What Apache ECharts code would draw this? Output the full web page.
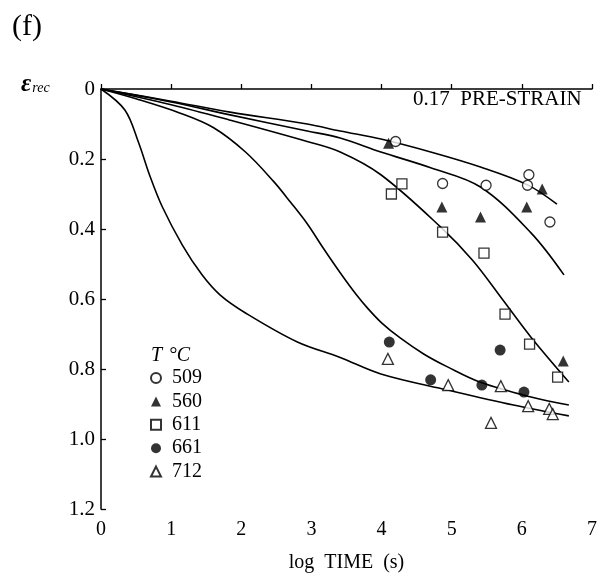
<!DOCTYPE html>
<html>
<head>
<meta charset="utf-8">
<script src="https://cdn.jsdelivr.net/npm/echarts@6/dist/echarts.min.js"></script>
<style>html,body{margin:0;padding:0;background:#fff}#c{width:615px;height:578px}</style>
</head>
<body>
<div id="c"></div>
<script>
// x: log TIME (s), y: eps_rec
var xTicks = [0, 1, 2, 3, 4, 5, 6, 7];
var yTicks = [0, 0.2, 0.4, 0.6, 0.8, 1.0, 1.2];

var pts509 = [[4.2,0.15],[4.87,0.27],[5.49,0.275],[6.1,0.245],[6.08,0.275],[6.4,0.38]];
var pts560 = [[4.1,0.155],[6.29,0.286],[4.86,0.337],[5.41,0.366],[6.07,0.337],[6.59,0.777]];
var pts611 = [[4.29,0.271],[4.14,0.30],[4.87,0.409],[5.46,0.469],[5.76,0.643],[6.11,0.729],[6.51,0.823]];
var pts661 = [[4.11,0.723],[4.7,0.831],[5.43,0.846],[5.69,0.746],[6.03,0.866]];
var pts712 = [[4.09,0.771],[4.95,0.846],[5.7,0.849],[5.56,0.954],[6.09,0.906],[6.39,0.914],[6.44,0.929]];

var curve509 = [[0,0],[1,0.035],[1.84,0.066],[2.94,0.1],[3.41,0.12],[3.99,0.143],[4.7,0.18],[5.41,0.223],[6.08,0.274],[6.5,0.329]];
var curve560 = [[0,0],[1,0.037],[1.84,0.074],[2.94,0.12],[3.41,0.14],[3.99,0.18],[4.7,0.225],[5.41,0.28],[6.13,0.411],[6.6,0.531]];
var curve611 = [[0,0],[1,0.045],[1.84,0.089],[2.94,0.15],[3.41,0.18],[3.99,0.245],[4.84,0.394],[5.3,0.49],[5.73,0.603],[6.13,0.709],[6.67,0.837]];
var curve661 = [[0,0],[0.5,0.028],[1.13,0.069],[1.6,0.11],[2.06,0.18],[2.46,0.264],[2.7,0.323],[2.94,0.385],[3.17,0.455],[3.41,0.525],[3.63,0.585],[3.8,0.626],[4.0,0.668],[4.27,0.712],[4.6,0.757],[4.94,0.794],[5.41,0.838],[6.13,0.88],[6.67,0.903]];
var curve712 = [[0,0],[0.34,0.06],[0.53,0.15],[0.7,0.25],[0.87,0.335],[1.16,0.446],[1.44,0.531],[1.7,0.589],[2.06,0.64],[2.8,0.723],[3.41,0.767],[3.99,0.814],[4.94,0.86],[5.88,0.903],[6.67,0.934]];

var FONT = '"Liberation Serif", "DejaVu Serif", serif';
var open = {color:'#fff', borderColor:'#000', borderWidth:1.3};
var filled = {color:'#000', borderColor:'#000', borderWidth:0};

function lineSeries(name, data){
  return {type:'line', name:name, data:data, smooth:0.35, showSymbol:false, silent:true,
    lineStyle:{color:'#000', width:1.6}, z:2};
}
function scatterSeries(name, data, symbol, size, style){
  return {type:'scatter', name:name, data:data, symbol:symbol, symbolSize:size, itemStyle:style, z:3};
}

var chart = echarts.init(document.getElementById('c'), null, {renderer:'canvas'});
chart.setOption({
  animation:false,
  backgroundColor:'#fff',
  textStyle:{fontFamily:FONT, color:'#000'},
  grid:{left:101, top:89, right:23, bottom:69, containLabel:false},
  xAxis:{type:'value', min:xTicks[0], max:xTicks[xTicks.length-1], interval:1,
    name:'log  TIME  (s)', nameLocation:'middle', nameGap:44,
    nameTextStyle:{fontFamily:FONT, fontSize:20, color:'#000'},
    axisLine:{lineStyle:{color:'#000', width:1.5}},
    axisTick:{inside:true, length:5, lineStyle:{color:'#000', width:1.3}},
    axisLabel:{fontFamily:FONT, fontSize:20, color:'#000', margin:11},
    splitLine:{show:false}},
  yAxis:{type:'value', inverse:true, min:yTicks[0], max:yTicks[yTicks.length-1], interval:0.2,
    axisLine:{show:true, lineStyle:{color:'#000', width:1.5}},
    axisTick:{show:true, inside:true, length:5, lineStyle:{color:'#000', width:1.3}},
    axisLabel:{fontFamily:FONT, fontSize:21, color:'#000', margin:6,
      formatter:function(v){ return Math.abs(v)<1e-9 ? '0' : v.toFixed(1); }},
    splitLine:{show:false}},
  legend:{orient:'vertical', left:145, top:363, itemWidth:10, itemHeight:10, itemGap:3.4,
    data:['509','560','611','661','712'],
    textStyle:{fontFamily:FONT, fontSize:20, color:'#000', lineHeight:20, padding:[0,0,0,6]}},
  graphic:[
    {type:'text', left:12, top:12, style:{text:'(f)', font:'30px '+FONT, fill:'#000'}},
    {type:'text', left:21, top:72, style:{text:'{e|ε}{s|rec}',
      rich:{e:{fontFamily:FONT, fontSize:25, fontStyle:'italic', fontWeight:'bold', fill:'#000'},
            s:{fontFamily:FONT, fontSize:14, fontStyle:'italic', fill:'#000', padding:[8,0,0,1]}}}},
    {type:'text', left:413, top:89, style:{text:'0.17  PRE-STRAIN', font:'21px '+FONT, fill:'#000'}},
    {type:'text', left:151, top:346, style:{text:'{t|T}  {c|°C}',
      rich:{t:{fontFamily:FONT, fontSize:20, fontStyle:'italic', fill:'#000'},
            c:{fontFamily:FONT, fontSize:20, fontStyle:'italic', fill:'#000'}}}}
  ],
  series:[
    lineSeries('c509', curve509),
    lineSeries('c560', curve560),
    lineSeries('c611', curve611),
    lineSeries('c661', curve661),
    lineSeries('c712', curve712),
    scatterSeries('509', pts509, 'circle', 10, open),
    scatterSeries('560', pts560, 'triangle', 11, filled),
    scatterSeries('611', pts611, 'rect', 10, open),
    scatterSeries('661', pts661, 'circle', 11, filled),
    scatterSeries('712', pts712, 'triangle', 11, open)
  ]
});
</script>
</body>
</html>
